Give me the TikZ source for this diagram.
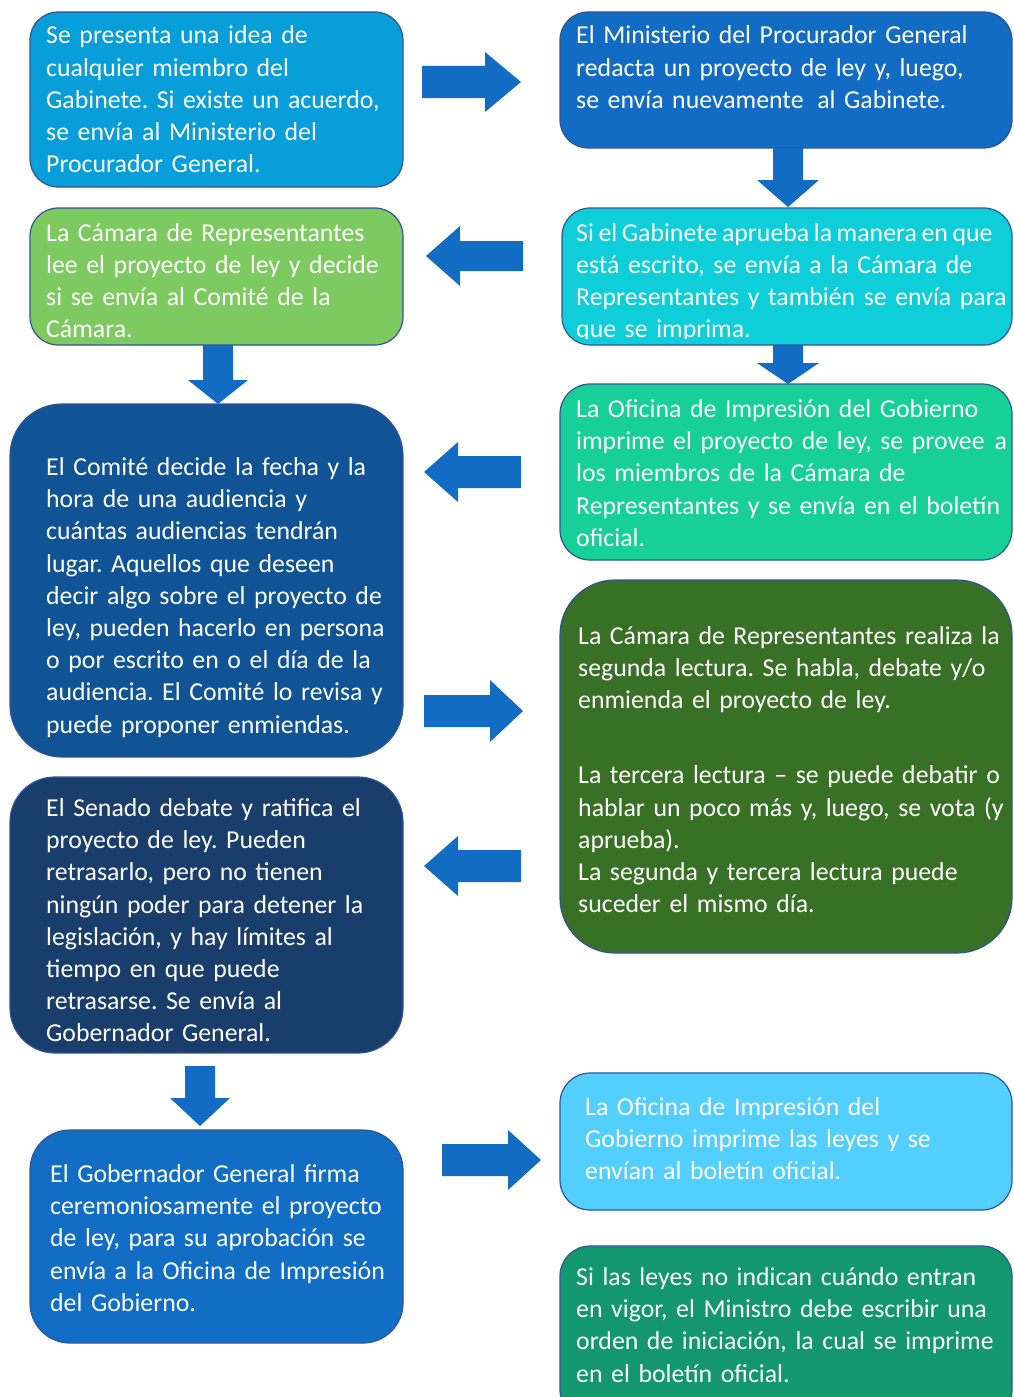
\documentclass[tikz,border=0pt]{standalone}
\usepackage{fontspec}
\setmainfont{Carlito}
\definecolor{cA}{RGB}{8,158,218}
\definecolor{cB}{RGB}{18,108,196}
\definecolor{cC}{RGB}{14,206,218}
\definecolor{cD}{RGB}{125,202,96}
\definecolor{cE}{RGB}{16,84,150}
\definecolor{cF}{RGB}{22,208,152}
\definecolor{cG}{RGB}{56,112,38}
\definecolor{cH}{RGB}{26,62,108}
\definecolor{cI}{RGB}{17,110,196}
\definecolor{cJ}{RGB}{82,206,255}
\definecolor{cK}{RGB}{18,152,108}
\definecolor{arrowc}{RGB}{18,108,196}
\definecolor{edgec}{RGB}{47,85,151}
\newcommand\harr[6]{\fill[arrowc] (#1,#4-#5) -- (#2,#4-#5) -- (#2,#4-#6) -- (#3,#4) -- (#2,#4+#6) -- (#2,#4+#5) -- (#1,#4+#5) -- cycle;}
\newcommand\varr[6]{\fill[arrowc] (#4-#5,#1) -- (#4-#5,#2) -- (#4-#6,#2) -- (#4,#3) -- (#4+#6,#2) -- (#4+#5,#2) -- (#4+#5,#1) -- cycle;}
\newcommand\txtfont{\fontsize{25.8}{32.2}\selectfont\frenchspacing\spaceskip=5.2pt\relax}
\frenchspacing
\begin{document}
\begin{tikzpicture}[x=1pt,y=-1pt,
  box/.style={draw=edgec, line width=1.2pt, inner sep=0pt, outer sep=0pt},
  txt/.style={anchor=base west, inner sep=0pt, text width=600pt, align=left, text=white,
    font=\txtfont}]
\useasboundingbox (0,0) rectangle (1013,1397);
\clip (0,0) rectangle (1013,1397);
% boxes
\node[box, fill=cA, minimum width=373pt, minimum height=175pt, rounded corners=28pt] (A) at (216.5,99.5) {};
\node[box, fill=cB, minimum width=452pt, minimum height=136pt, rounded corners=28pt] (B) at (786,80) {};
\node[box, fill=cC, minimum width=450pt, minimum height=137pt, rounded corners=28pt] (C) at (787,276.5) {};
\node[box, fill=cD, minimum width=373pt, minimum height=137pt, rounded corners=28pt] (D) at (216.5,276.5) {};
\node[box, fill=cE, minimum width=393pt, minimum height=353pt, rounded corners=52pt] (E) at (206.5,580.5) {};
\node[box, fill=cF, minimum width=452pt, minimum height=176pt, rounded corners=30pt] (F) at (786,472) {};
\node[box, fill=cG, minimum width=452pt, minimum height=373pt, rounded corners=55pt] (G) at (786,766.5) {};
\node[box, fill=cH, minimum width=393pt, minimum height=276pt, rounded corners=45pt] (H) at (206.5,915) {};
\node[box, fill=cI, minimum width=373pt, minimum height=213pt, rounded corners=40pt] (I) at (216.5,1236.5) {};
\node[box, fill=cJ, minimum width=452pt, minimum height=137pt, rounded corners=30pt] (J) at (786,1141.5) {};
\node[box, fill=cK, minimum width=452pt, minimum height=174pt, rounded corners=30pt] (K) at (786,1333) {};
% arrows
\harr{422}{485}{521}{82}{16}{30}
\varr{148}{180}{207}{788}{15}{31}
\harr{523}{460}{426}{256}{15}{30}
\varr{345}{380}{404}{218}{15}{30}
\varr{345}{363}{384}{788}{15}{31}
\harr{521}{458}{424}{472}{16}{30}
\harr{424}{490}{523}{711}{16}{31}
\harr{521}{458}{424}{866}{16}{30}
\varr{1066}{1098}{1126}{200}{15}{30}
\harr{442}{508}{541}{1160}{16}{30}
% texts
\node[txt] (tA) at (46,44) {Se presenta una idea de\\cualquier miembro del\\Gabinete. Si existe un acuerdo,\\se envía al Ministerio del\\Procurador General.};
\node[txt] (tB) at (576,44) {El Ministerio del Procurador General\\redacta un proyecto de ley y, luego,\\se envía nuevamente\hspace{5pt} al Gabinete.};
\begin{scope}
\clip (562,208) rectangle (1012,338);
\node[txt] (tC) at (576,241) {{\spaceskip=4.6pt\relax Si el Gabinete aprueba la manera en que}\\está escrito, se envía a la Cámara de\\Representantes y también se envía para\\que se imprima.};
\end{scope}
\node[txt] (tD) at (46,241) {La Cámara de Representantes\\lee el proyecto de ley y decide\\si se envía al Comité de la\\Cámara.};
\node[txt] (tE) at (46,475.5) {El Comité decide la fecha y la\\hora de una audiencia y\\cuántas audiencias tendrán\\lugar. Aquellos que deseen\\decir algo sobre el proyecto de\\ley, pueden hacerlo en persona\\o por escrito en o el día de la\\audiencia. El Comité lo revisa y\\puede proponer enmiendas.};
\node[txt] (tF) at (576,417.5) {La Oficina de Impresión del Gobierno\\imprime el proyecto de ley, se provee\hspace{10pt}a\\los miembros de la Cámara de\\Representantes y se envía en el boletín\\oficial.};
\node[txt] (tG) at (578,644.5) {La Cámara de Representantes realiza la\\segunda lectura. Se habla, debate y/o\\enmienda el proyecto de ley.\\[42.8pt]La tercera lectura – se puede debatir o\\hablar un poco más y, luego, se vota (y\\aprueba).\\La segunda y tercera lectura puede\\suceder el mismo día.};
\node[txt] (tH) at (46,816.5) {El Senado debate y ratifica el\\proyecto de ley. Pueden\\retrasarlo, pero no tienen\\ningún poder para detener la\\legislación, y hay límites al\\tiempo en que puede\\retrasarse. Se envía al\\Gobernador General.};
\node[txt] (tI) at (50,1182.5) {El Gobernador General firma\\ceremoniosamente el proyecto\\de ley, para su aprobación se\\envía a la Oficina de Impresión\\del Gobierno.};
\node[txt] (tJ) at (585,1115.5) {La Oficina de Impresión del\\Gobierno imprime las leyes y se\\envían al boletín oficial.};
\node[txt] (tK) at (576,1285.5) {Si las leyes no indican cuándo entran\\en vigor, el Ministro debe escribir una\\orden de iniciación, la cual se imprime\\en el boletín oficial.};
\end{tikzpicture}
\end{document}
